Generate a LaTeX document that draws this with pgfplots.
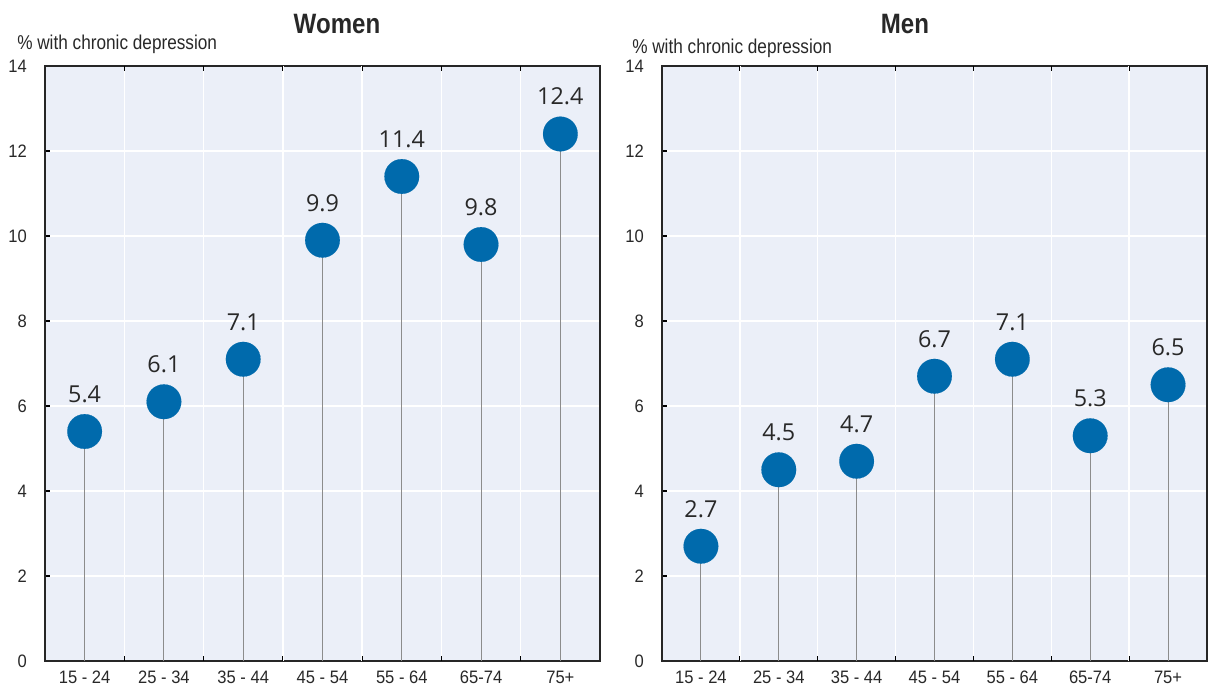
\documentclass[border=0pt]{standalone}
\usepackage{fontspec}
\setmainfont{Liberation Sans}[FakeStretch=0.86]
\newfontfamily\ticky{Liberation Sans}[FakeStretch=0.92]
\newfontfamily\opensans{Open Sans}
\usepackage{pgfplots}
\pgfplotsset{compat=1.18}
\definecolor{bg}{RGB}{235,239,248}
\definecolor{dotblue}{RGB}{0,106,172}
\definecolor{txt}{RGB}{40,40,40}
\pgfplotsset{
  lolli/.style={
    scale only axis,
    width=#1,
    height=446.25pt,
    anchor=south west,
    xmin=-0.5, xmax=6.5,
    ymin=0, ymax=14,
    ytick={0,2,...,14},
    ytick pos=left,
    xtick={0,...,6},
    xticklabels={15 - 24,25 - 34,35 - 44,45 - 54,55 - 64,65-74,75+},
    xtick style={draw=none},
    extra x ticks={0.5,1.5,...,5.5},
    extra x tick labels={},
    extra x tick style={grid=major, xtick style={draw=black, line width=0.8pt}, major tick length=3.5pt},
    ymajorgrids,
    major grid style={white, line width=1.1pt},
    major tick length=3.5pt,
    tick align=inside,
    ytick style={draw=black, line width=0.8pt},
    axis background/.style={fill=bg},
    axis line style={line width=1.2pt, draw=black!85},
    /pgf/number format/assume math mode=true,
    tick label style={font=\ticky\fontsize{13.5}{14}\selectfont, text=txt},
    yticklabel style={anchor=east, inner sep=0pt, xshift=-13.5pt},
    xticklabel style={anchor=north, inner sep=0pt, yshift=-7.5pt},
    clip=false,
  },
  dots/.style={only marks, mark=*, mark size=13pt, color=dotblue,
    mark options={fill=dotblue, draw=dotblue, line width=0.1pt},
    nodes near coords, point meta=explicit symbolic,
    nodes near coords style={anchor=center, yshift=28pt, font=\opensans\fontsize{17.5}{18}\selectfont, text=txt}},
  stems/.style={ycomb, draw=black!45, line width=0.7pt, no marks},
}
\begin{document}
\begin{tikzpicture}
\useasboundingbox (0,0) rectangle (906pt,515.25pt);
% Women
\begin{axis}[lolli=416.25pt, at={(33.75pt,19.5pt)}]
\addplot[stems] coordinates {(0,5.4) (1,6.1) (2,7.1) (3,9.9) (4,11.4) (5,9.8) (6,12.4)};
\addplot[dots]
  coordinates {(0,5.4) [5.4] (1,6.1) [6.1] (2,7.1) [7.1] (3,9.9) [9.9] (4,11.4) [11.4] (5,9.8) [9.8] (6,12.4) [12.4]};
\end{axis}
% Men
\begin{axis}[lolli=408.75pt, at={(496.5pt,19.5pt)}]
\addplot[stems] coordinates {(0,2.7) (1,4.5) (2,4.7) (3,6.7) (4,7.1) (5,5.3) (6,6.5)};
\addplot[dots]
  coordinates {(0,2.7) [2.7] (1,4.5) [4.5] (2,4.7) [4.7] (3,6.7) [6.7] (4,7.1) [7.1] (5,5.3) [5.3] (6,6.5) [6.5]};
\end{axis}
% titles and axis labels
\node[font=\bfseries\fontsize{21}{21}\selectfont, text=txt] at (252.75pt,497.25pt) {Women};
\node[font=\bfseries\fontsize{21}{21}\selectfont, text=txt] at (678.75pt,497.25pt) {Men};
\node[anchor=west, inner sep=0pt, font=\fontsize{15}{15}\selectfont, text=txt] at (12.75pt,482.25pt) {\% with chronic depression};
\node[anchor=west, inner sep=0pt, font=\fontsize{15}{15}\selectfont, text=txt] at (474pt,479.25pt) {\% with chronic depression};
\end{tikzpicture}
\end{document}
